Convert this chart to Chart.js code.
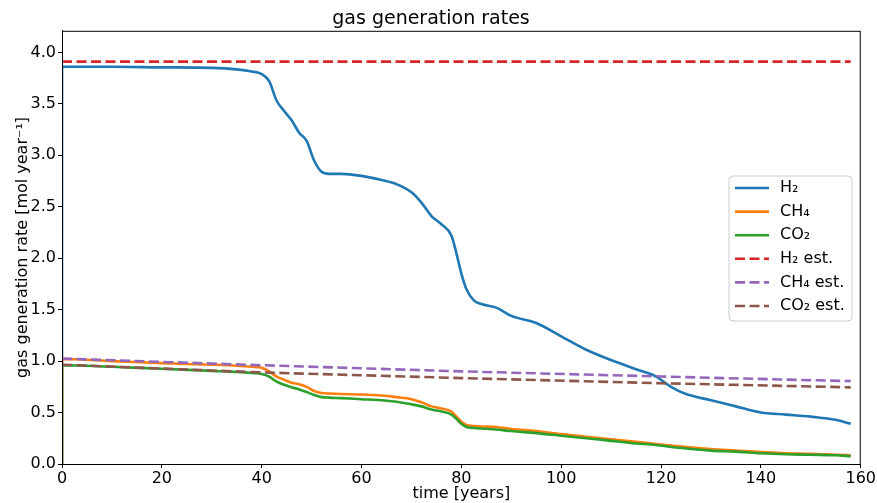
<!DOCTYPE html>
<html>
<head>
<meta charset="utf-8">
<script src="https://cdn.jsdelivr.net/npm/chart.js@4/dist/chart.umd.min.js"></script>
<style>
  html, body { margin: 0; padding: 0; background: #fff; }
  #wrap { width: 877px; height: 503px; }
</style>
</head>
<body>
<div id="wrap"><canvas id="gasChart"></canvas></div>
<script>
// time axis shared by the simulated curves (years)
var years = [0, 0.01, 10, 20, 30, 35, 38, 40, 41.5, 43, 44.5, 46, 47.5, 49, 50.5, 52, 53.5, 56, 60, 64, 67, 70, 72, 74, 76, 78, 79, 80, 81, 82.5, 84, 87, 90, 95, 100, 105, 110, 115, 119, 122, 125, 130, 135, 140, 145, 150, 155, 158];

var h2 = [0, 3.86, 3.86, 3.855, 3.85, 3.835, 3.815, 3.79, 3.72, 3.53, 3.43, 3.34, 3.22, 3.14, 2.95, 2.84, 2.82, 2.82, 2.80, 2.76, 2.72, 2.64, 2.54, 2.41, 2.33, 2.22, 2.05, 1.85, 1.70, 1.59, 1.555, 1.52, 1.44, 1.37, 1.24, 1.11, 1.01, 0.92, 0.85, 0.75, 0.68, 0.62, 0.56, 0.50, 0.48, 0.46, 0.43, 0.39];
var ch4 = [0, 1.02, 1.00, 0.98, 0.965, 0.955, 0.945, 0.935, 0.90, 0.85, 0.82, 0.79, 0.775, 0.75, 0.71, 0.69, 0.685, 0.68, 0.675, 0.665, 0.65, 0.63, 0.60, 0.56, 0.54, 0.51, 0.46, 0.41, 0.38, 0.37, 0.365, 0.36, 0.34, 0.32, 0.29, 0.265, 0.24, 0.215, 0.195, 0.18, 0.165, 0.145, 0.13, 0.115, 0.105, 0.10, 0.09, 0.085];
var co2 = [0, 0.96, 0.945, 0.925, 0.905, 0.895, 0.885, 0.875, 0.85, 0.80, 0.77, 0.745, 0.725, 0.70, 0.67, 0.65, 0.645, 0.64, 0.63, 0.62, 0.605, 0.58, 0.56, 0.53, 0.51, 0.48, 0.44, 0.39, 0.36, 0.35, 0.345, 0.335, 0.32, 0.30, 0.275, 0.25, 0.225, 0.20, 0.185, 0.165, 0.15, 0.13, 0.12, 0.105, 0.095, 0.09, 0.085, 0.075];

// estimates
var estYears = [0, 40, 80, 120, 158];
var h2Est = [3.91, 3.91, 3.91, 3.91, 3.91];
var ch4Est = [1.025, 0.96, 0.90, 0.85, 0.805];
var co2Est = [0.965, 0.89, 0.835, 0.785, 0.745];

var xTicks = [0, 20, 40, 60, 80, 100, 120, 140, 160];
var yTicks = [0, 0.5, 1.0, 1.5, 2.0, 2.5, 3.0, 3.5, 4.0];

function pts(xs, ys) {
    return xs.map(function (x, i) { return { x: x, y: ys[i] }; });
}

var FONT = 'DejaVu Sans';
var dash = [10, 4.5];

function series(label, xs, ys, color, dashed, order) {
    return {
        label: label,
        data: pts(xs, ys),
        borderColor: color,
        backgroundColor: color,
        borderWidth: 2.6,
        borderDash: dashed ? dash : [],
        pointRadius: 0,
        fill: false,
        cubicInterpolationMode: dashed ? 'default' : 'monotone',
        tension: 0,
        order: order
    };
}

// frame + legend drawn like matplotlib
var frameLegend = {
    id: 'frameLegend',
    afterDraw: function (chart) {
        var ctx = chart.ctx, a = chart.chartArea;
        ctx.save();
        ctx.strokeStyle = '#000';
        ctx.lineWidth = 1;
        ctx.strokeRect(a.left + 0.5, a.top + 0.5, a.right - a.left - 1, a.bottom - a.top);

        var bx = 729, by = 176, bw = 123, bh = 145, r = 4;
        ctx.fillStyle = 'rgba(255,255,255,0.8)';
        ctx.strokeStyle = '#cccccc';
        ctx.beginPath();
        ctx.moveTo(bx + r, by);
        ctx.arcTo(bx + bw, by, bx + bw, by + bh, r);
        ctx.arcTo(bx + bw, by + bh, bx, by + bh, r);
        ctx.arcTo(bx, by + bh, bx, by, r);
        ctx.arcTo(bx, by, bx + bw, by, r);
        ctx.closePath();
        ctx.fill();
        ctx.stroke();

        ctx.font = '16px "' + FONT + '"';
        ctx.textBaseline = 'middle';
        ctx.fillStyle = '#000';
        chart.data.datasets.forEach(function (ds, i) {
            var yy = by + 12 + i * 23.6;
            ctx.strokeStyle = ds.borderColor;
            ctx.lineWidth = 2.6;
            ctx.setLineDash(ds.borderDash);
            ctx.beginPath();
            ctx.moveTo(bx + 6, yy);
            ctx.lineTo(bx + 40, yy);
            ctx.stroke();
            ctx.setLineDash([]);
            ctx.fillText(ds.label, bx + 51, yy);
        });
        ctx.restore();
    }
};

var ctx = document.getElementById('gasChart').getContext('2d');
var gasChart = new Chart(ctx, {
    type: 'line',
    data: {
        datasets: [
            series('H₂', years, h2, '#1f77b4', false, 6),
            series('CH₄', years, ch4, '#ff7f0e', false, 5),
            series('CO₂', years, co2, '#2ca02c', false, 4),
            series('H₂ est.', estYears, h2Est, '#d62728', true, 3),
            series('CH₄ est.', estYears, ch4Est, '#9467bd', true, 2),
            series('CO₂ est.', estYears, co2Est, '#8c564b', true, 1)
        ]
    },
    options: {
        responsive: true,
        maintainAspectRatio: false,
        animation: false,
        layout: { padding: { left: 0, right: 15, top: 0, bottom: 0 } },
        plugins: {
            legend: { display: false },
            tooltip: { enabled: false },
            title: {
                display: true,
                text: 'gas generation rates',
                color: '#000',
                font: { family: FONT, size: 19, weight: 'normal' },
                padding: { top: 8, bottom: 0 }
            }
        },
        scales: {
            x: {
                type: 'linear',
                min: 0,
                max: 160,
                afterFit: function (s) { s.height = 39; },
                afterBuildTicks: function (s) { s.ticks = xTicks.map(function (v) { return { value: v }; }); },
                grid: { display: true, drawOnChartArea: false, drawTicks: true, tickLength: 4, color: '#000' },
                border: { display: true, color: '#000' },
                ticks: { color: '#000', font: { family: FONT, size: 16 }, padding: 1, maxRotation: 0 },
                title: {
                    display: true,
                    text: 'time [years]',
                    color: '#000',
                    font: { family: FONT, size: 16 },
                    padding: { top: 0, bottom: 0 }
                }
            },
            y: {
                type: 'linear',
                min: 0,
                max: 4.21,
                afterFit: function (s) { s.width = 62; },
                afterBuildTicks: function (s) { s.ticks = yTicks.map(function (v) { return { value: v }; }); },
                grid: { display: true, drawOnChartArea: false, drawTicks: true, tickLength: 4, color: '#000' },
                border: { display: true, color: '#000' },
                ticks: {
                    color: '#000',
                    font: { family: FONT, size: 16 },
                    padding: 2,
                    callback: function (v) { return Number(v).toFixed(1); }
                },
                title: {
                    display: true,
                    text: 'gas generation rate [mol year⁻¹]',
                    color: '#000',
                    font: { family: FONT, size: 16 },
                    padding: { top: 13, bottom: 0 }
                }
            }
        }
    },
    plugins: [frameLegend]
});
</script>
</body>
</html>
